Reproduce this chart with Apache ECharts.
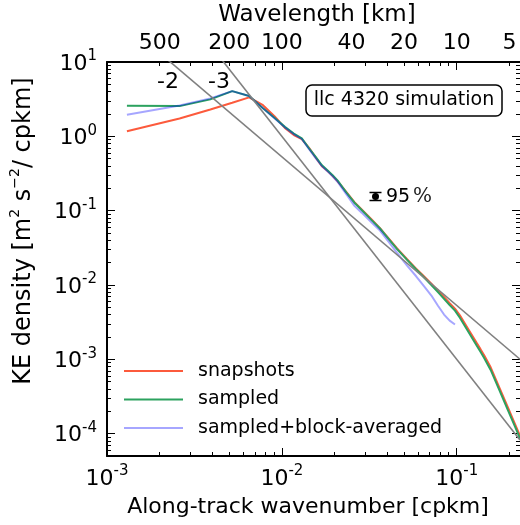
<!DOCTYPE html>
<html>
<head>
<meta charset="utf-8">
<script src="https://cdn.jsdelivr.net/npm/echarts@6/dist/echarts.min.js"></script>
<style>
  html, body { margin: 0; padding: 0; background: #ffffff; }
  #chart { width: 520px; height: 525px; }
</style>
</head>
<body>
<div id="chart"></div>
<script>
// Along-track wavenumber [cpkm]
const wavenumber = [0.0013, 0.0026, 0.0039, 0.0052, 0.0065, 0.0078, 0.0091, 0.0104, 0.0117, 0.013,
  0.0143, 0.0156, 0.0169, 0.0182, 0.0195, 0.0208, 0.0234, 0.026, 0.0286, 0.0326,
  0.0364, 0.039, 0.0456, 0.052, 0.0586, 0.0651, 0.0716, 0.0781, 0.0846, 0.0911,
  0.0977, 0.1042, 0.1172, 0.1302, 0.1367, 0.1432, 0.1563, 0.1758, 0.1953, 0.2148, 0.2305];

// KE density [m^2 s^-2 / cpkm]
const snapshots = [1.17, 1.74, 2.30, 2.83, 3.34, 2.62, 1.85, 1.30, 1.04, 0.92,
  0.70, 0.52, 0.40, 0.345, 0.295, 0.25, 0.178, 0.13, 0.104, 0.076,
  0.058, 0.048, 0.031, 0.0222, 0.0166, 0.0130, 0.0104, 0.0084, 0.0069, 0.0057,
  0.0048, 0.0039, 0.00248, 0.00165, 0.00137, 0.00114, 7.8e-4, 4.1e-4, 2.3e-4, 1.36e-4, 9.2e-5];

const sampled = [2.58, 2.55, 3.14, 4.06, 3.48, 2.38, 1.76, 1.34, 1.09, 0.94,
  0.69, 0.53, 0.41, 0.35, 0.30, 0.255, 0.175, 0.128, 0.102, 0.0746,
  0.0575, 0.0473, 0.0304, 0.0218, 0.0162, 0.0126, 0.0100, 0.0080, 0.0065, 0.00536,
  0.00452, 0.00362, 0.0023, 0.00152, 0.00126, 0.00105, 7.2e-4, 3.8e-4, 2.12e-4, 1.26e-4, 8.5e-5];

// block-averaged spectrum stops at 0.0977 cpkm
const blockAveraged = [1.95, 2.60, 3.24, 4.06, 3.48, 2.38, 1.74, 1.32, 1.07, 0.92,
  0.67, 0.51, 0.40, 0.34, 0.29, 0.245, 0.165, 0.116, 0.094, 0.069,
  0.054, 0.0438, 0.0271, 0.0182, 0.0131, 0.0096, 0.0072, 0.00525, 0.0040, 0.00331,
  0.00294];

// reference power laws  E = C * k^slope
const slopeExponents = [-2, -3];
const slopeCoefficients = [5.3e-5, 1e-6];

// top axis: wavelength [km]
const wavelengthTicks = [500, 200, 100, 40, 20, 10, 5];

const xDecades = [1e-3, 1e-2, 1e-1];
const yDecades = [1e-4, 1e-3, 1e-2, 1e-1, 1, 10];

const X_MIN = 1e-3, X_MAX = 0.23;
const Y_MIN = 5e-5, Y_MAX = 10;

const FONT = 'DejaVu Sans';
const COLORS = { snap: '#fc5a3c', samp: '#2ca25f', block: 'rgba(0,0,255,0.35)', ref: '#808080' };

const lg = Math.log10;

function minorTicks(lo, hi) {
  const out = [];
  for (let e = Math.floor(lg(lo)) - 1; e <= Math.ceil(lg(hi)); e++) {
    for (let m = 2; m <= 9; m++) {
      const v = m * Math.pow(10, e);
      if (v >= lo * 0.999 && v <= hi * 1.001) out.push(lg(v));
    }
  }
  return out;
}

const xMajor = xDecades.map(lg);
const xMinor = minorTicks(X_MIN, X_MAX);
const yMajor = yDecades.map(lg);
const yMinor = minorTicks(Y_MIN, Y_MAX);
const topLabelPos = wavelengthTicks.map(km => lg(1 / km));

const powerLabel = v => '{b|10}{s|' + Math.round(v) + '}';
const labelRich = {
  b: { fontSize: 22, fontFamily: FONT, color: '#000', lineHeight: 26, verticalAlign: 'bottom' },
  s: { fontSize: 15, fontFamily: FONT, color: '#000', lineHeight: 15, verticalAlign: 'top' }
};

// tick-only helper axes (in log10 units), sharing the grid with the log axes
function auxX(position, ticks, len, extra) {
  return Object.assign({
    type: 'value', position: position, min: lg(X_MIN), max: lg(X_MAX),
    axisLine: { show: false, onZero: false },
    axisTick: { show: true, inside: true, length: len, customValues: ticks,
      lineStyle: { color: '#000', width: 1 } },
    axisLabel: { show: false },
    splitLine: { show: false }
  }, extra || {});
}
function auxY(position, ticks, len, extra) {
  return Object.assign({
    type: 'value', position: position, min: lg(Y_MIN), max: lg(Y_MAX),
    axisLine: { show: false, onZero: false },
    axisTick: { show: true, inside: true, length: len, customValues: ticks,
      lineStyle: { color: '#000', width: 1 } },
    axisLabel: { show: false },
    splitLine: { show: false }
  }, extra || {});
}

const spine = { show: true, onZero: false, lineStyle: { color: '#000', width: 2 } };

const xAxes = [
  { type: 'log', logBase: 10, min: X_MIN, max: X_MAX, show: false },
  auxX('bottom', xMajor, 8, {
    axisLine: spine,
    axisLabel: { show: true, customValues: xMajor, margin: 8, formatter: powerLabel, rich: labelRich }
  }),
  auxX('bottom', xMinor, 4),
  auxX('top', xMajor, 8, { axisLine: spine }),
  auxX('top', xMinor, 4),
  auxX('top', topLabelPos, 0, {
    axisTick: { show: false },
    axisLabel: { show: true, customValues: topLabelPos, margin: 8,
      fontSize: 22, fontFamily: FONT, color: '#000',
      formatter: v => String(Math.round(Math.pow(10, -v))) }
  })
];

const yAxes = [
  { type: 'log', logBase: 10, min: Y_MIN, max: Y_MAX, show: false },
  auxY('left', yMajor, 8, {
    axisLine: spine,
    axisLabel: { show: true, customValues: yMajor, margin: 10, formatter: powerLabel, rich: labelRich }
  }),
  auxY('left', yMinor, 4),
  auxY('right', yMajor, 8),
  auxY('right', yMinor, 4)
];

function spectrum(name, values, color, z) {
  return {
    name: name, type: 'line', xAxisIndex: 0, yAxisIndex: 0, z: z,
    data: values.map((v, i) => [wavenumber[i], v]),
    showSymbol: false, symbol: 'none', smooth: false, clip: true,
    color: color,
    itemStyle: { color: color },
    lineStyle: { color: color, width: 2 },
    emphasis: { disabled: true }
  };
}

const refLines = slopeExponents.map((s, i) => ({
  type: 'line', xAxisIndex: 0, yAxisIndex: 0, z: 5,
  data: [X_MIN, X_MAX].map(k => [k, slopeCoefficients[i] * Math.pow(k, s)]),
  showSymbol: false, symbol: 'none', clip: true, silent: true,
  lineStyle: { color: COLORS.ref, width: 1.6 },
  emphasis: { disabled: true }
}));

const chart = echarts.init(document.getElementById('chart'), null, { renderer: 'canvas' });

chart.setOption({
  animation: false,
  backgroundColor: '#ffffff',
  grid: { left: 107, right: 0, top: 62, bottom: 69, containLabel: false },
  xAxis: xAxes,
  yAxis: yAxes,
  legend: {
    orient: 'vertical', left: 124, top: 361, padding: 0, itemGap: 8.5,
    icon: 'rect', itemWidth: 59, itemHeight: 2,
    selectedMode: false,
    textStyle: { fontSize: 19, fontFamily: FONT, color: '#000', lineHeight: 20, padding: [0, 0, 0, 10] },
    data: ['snapshots', 'sampled', 'sampled+block-averaged']
  },
  series: [
    spectrum('snapshots', snapshots, COLORS.snap, 2),
    spectrum('sampled', sampled, COLORS.samp, 3),
    spectrum('sampled+block-averaged', blockAveraged, COLORS.block, 4)
  ].concat(refLines),
  graphic: [
    { type: 'text', x: 317, y: 15, style: { text: 'Wavelength [km]', font: '23px "DejaVu Sans"', fill: '#000', align: 'center', verticalAlign: 'middle' } },
    { type: 'text', x: 308, y: 507, style: { text: 'Along-track wavenumber [cpkm]', font: '22px "DejaVu Sans"', fill: '#000', align: 'center', verticalAlign: 'middle' } },
    {
      type: 'text', x: 22, y: 231, rotation: Math.PI / 2,
      style: {
        text: '{t|KE density [m}{s|2}{t| s}{s|\u22122}{t|/ cpkm]}',
        align: 'center', verticalAlign: 'middle',
        rich: {
          t: { fontSize: 24, fontFamily: FONT, fill: '#000', lineHeight: 28, verticalAlign: 'bottom' },
          s: { fontSize: 14, fontFamily: FONT, fill: '#000', lineHeight: 14, verticalAlign: 'top' }
        }
      }
    },
    { type: 'text', x: 168, y: 82, style: { text: '-2', font: '22px "DejaVu Sans"', fill: '#000', align: 'center', verticalAlign: 'middle' } },
    { type: 'text', x: 219, y: 82, style: { text: '-3', font: '22px "DejaVu Sans"', fill: '#000', align: 'center', verticalAlign: 'middle' } },
    { type: 'rect', shape: { x: 306, y: 85, width: 196, height: 31, r: 6 }, style: { fill: '#fff', stroke: '#000', lineWidth: 1.5 }, z: 10 },
    { type: 'text', x: 404, y: 100.5, z: 11, style: { text: 'llc 4320 simulation', font: '19px "DejaVu Sans"', fill: '#000', align: 'center', verticalAlign: 'middle' } },
    { type: 'line', shape: { x1: 375.5, y1: 192.5, x2: 375.5, y2: 200.5 }, style: { stroke: '#000', lineWidth: 1.5 } },
    { type: 'line', shape: { x1: 369.5, y1: 192.5, x2: 381.5, y2: 192.5 }, style: { stroke: '#000', lineWidth: 1.5 } },
    { type: 'line', shape: { x1: 369.5, y1: 200.5, x2: 381.5, y2: 200.5 }, style: { stroke: '#000', lineWidth: 1.5 } },
    { type: 'circle', shape: { cx: 375.5, cy: 196.5, r: 3.5 }, style: { fill: '#000' } },
    { type: 'text', x: 386, y: 197, style: { text: '95', font: '19px "DejaVu Sans"', fill: '#000', align: 'left', verticalAlign: 'middle' } },
    { type: 'text', x: 413, y: 197, style: { text: '%', font: '20px "DejaVu Serif"', fill: '#222', align: 'left', verticalAlign: 'middle' } }
  ]
});
</script>
</body>
</html>
